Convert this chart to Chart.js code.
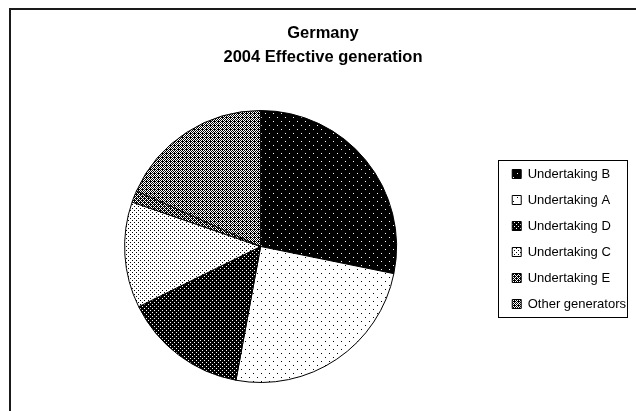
<!DOCTYPE html>
<html>
<head>
<meta charset="utf-8">
<script src="https://cdn.jsdelivr.net/npm/chart.js@4.4.1/dist/chart.umd.min.js"></script>
<style>
  html, body { margin: 0; padding: 0; background: #ffffff; }
  #wrap { width: 636px; height: 411px; position: relative; }
</style>
</head>
<body>
<div id="wrap"><canvas id="c" width="636" height="411"></canvas></div>
<script>
// ---- data ----
const titleLines = ['Germany', '2004 Effective generation'];
const categories = ['Undertaking B', 'Undertaking A', 'Undertaking D', 'Undertaking C', 'Undertaking E', 'Other generators'];
const shares = [28.2, 24.7, 14.8, 12.6, 1.4, 18.3];

// ---- fill patterns (black/white bitmap tiles) ----
const tiles = [
  // B: black with sparse white dots
  { bg: '#000', fg: '#fff', rows: ['........', '.#......', '........', '........', '........', '.....#..', '........', '........'] },
  // A: white with sparse black dots
  { bg: '#fff', fg: '#000', rows: ['........', '.#......', '........', '........', '........', '.....#..', '........', '........'] },
  // D: dark with denser white dots
  { bg: '#000', fg: '#fff', rows: ['#...', '....', '..#.', '....'] },
  // C: white with denser black dots
  { bg: '#fff', fg: '#000', rows: ['#...', '....', '..#.', '....'] },
  // E: dark grey checker
  { bg: '#000', fg: '#fff', rows: ['#...', '.#.#', '..#.', '.#.#'] },
  // Other: medium grey checker
  { bg: '#fff', fg: '#000', rows: ['#.#.', '.###', '#.#.', '.#.#'] }
];
function makePattern(t) {
  const h = t.rows.length, w = t.rows[0].length;
  const cv = document.createElement('canvas');
  cv.width = w; cv.height = h;
  const g = cv.getContext('2d');
  g.fillStyle = t.bg; g.fillRect(0, 0, w, h);
  g.fillStyle = t.fg;
  for (let y = 0; y < h; y++) for (let x = 0; x < w; x++) if (t.rows[y][x] === '#') g.fillRect(x, y, 1, 1);
  return g.createPattern(cv, 'repeat');
}
const fills = tiles.map(makePattern);

const FONT = "'Liberation Sans', Arial, sans-serif";

// frame + legend border + fine positioning
const framePlugin = {
  id: 'framePlugin',
  afterLayout(chart) {
    const t = chart.titleBlock;
    if (t) { const dx = 323 - (t.left + t.right) / 2; t.left += dx; t.right += dx; }
    const lg = chart.legend;
    if (lg) {
      const p = lg.options.labels.padding;
      const colH = lg.columnSizes && lg.columnSizes[0] ? lg.columnSizes[0].height : 156;
      const y0 = (lg.top + p + lg.bottom - colH) / 2;
      const dy = 167.5 - y0;
      lg.top += dy; lg.bottom += dy;
    }
  },
  beforeDraw(chart) {
    const ctx = chart.ctx;
    ctx.save();
    ctx.fillStyle = '#fff';
    ctx.fillRect(0, 0, chart.width, chart.height);
    ctx.fillStyle = '#1a1a1a';
    ctx.fillRect(9, 8, 2, chart.height);
    ctx.fillRect(9, 8, chart.width, 2);
    ctx.restore();
  },
  afterDraw(chart) {
    const lg = chart.legend;
    if (!lg || !lg.legendHitBoxes || !lg.legendHitBoxes.length) return;
    const hb = lg.legendHitBoxes;
    let l = Infinity, r = -Infinity, tp = Infinity, b = -Infinity;
    hb.forEach(h => { l = Math.min(l, h.left); r = Math.max(r, h.left + h.width); tp = Math.min(tp, h.top); b = Math.max(b, h.top + h.height); });
    const ctx = chart.ctx;
    ctx.save();
    ctx.strokeStyle = '#000';
    ctx.lineWidth = 1;
    ctx.strokeRect(Math.round(l - 14) + 0.5, Math.round(tp - 8) + 0.5, Math.round(r + 1 - (l - 14)), Math.round(b + 6 - (tp - 8)));
    ctx.restore();
  }
};

new Chart(document.getElementById('c'), {
  type: 'pie',
  data: {
    labels: categories,
    datasets: [{
      data: shares,
      backgroundColor: fills,
      borderColor: '#000',
      borderWidth: 1,
      hoverOffset: 0
    }]
  },
  options: {
    responsive: false,
    animation: false,
    events: [],
    layout: { padding: { left: 22, right: 0, top: 0, bottom: 28 } },
    plugins: {
      title: {
        display: true,
        text: titleLines,
        color: '#000',
        font: { family: FONT, size: 16.5, weight: 'bold', lineHeight: 1.4545 },
        padding: { top: 21, bottom: 41 }
      },
      legend: {
        display: true,
        position: 'right',
        fullSize: false,
        align: 'center',
        labels: {
          color: '#000',
          font: { family: FONT, size: 13 },
          boxWidth: 9,
          boxHeight: 9,
          padding: 13
        }
      },
      tooltip: { enabled: false }
    }
  },
  plugins: [framePlugin]
});
</script>
</body>
</html>
